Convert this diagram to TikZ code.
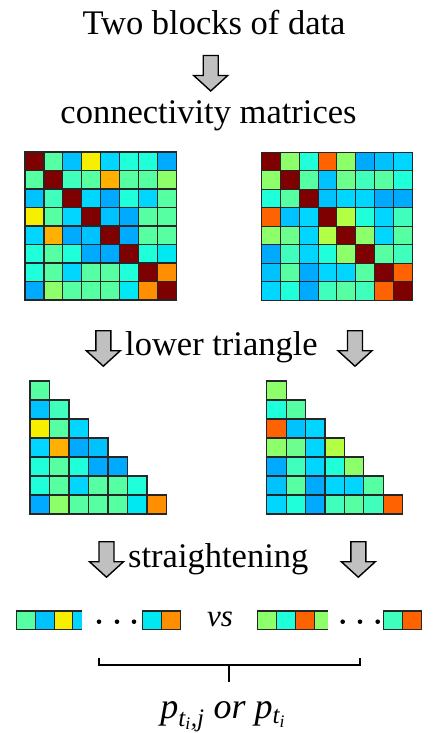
\documentclass[tikz,border=0pt]{standalone}
\usepackage{fontspec}
\setmainfont{Liberation Serif}
\definecolor{DR}{HTML}{7F0000}
\definecolor{MN}{HTML}{55FFA2}
\definecolor{MT}{HTML}{40FFBC}
\definecolor{TQ}{HTML}{1EFFDA}
\definecolor{CY}{HTML}{00D6FF}
\definecolor{CE}{HTML}{00E8F2}
\definecolor{SB}{HTML}{00C2FF}
\definecolor{AZ}{HTML}{00AAFF}
\definecolor{YE}{HTML}{F6F000}
\definecolor{OR}{HTML}{FFB000}
\definecolor{OO}{HTML}{FF8E00}
\definecolor{LG}{HTML}{8CFF6A}
\definecolor{YG}{HTML}{B2FF44}
\definecolor{RO}{HTML}{FF6200}
\definecolor{M2}{HTML}{6CFF8E}
\definecolor{arrowgray}{HTML}{C0C0C0}
\newcommand\DrawMat[5]{%
  \foreach \rw [count=\i] in {#5} {
    \foreach \cc [count=\j] in \rw {
      \draw[cellline, fill=\cc] ({#1+(\j-1)*#3},{#2+(\i-1)*#4}) rectangle ++(#3,#4);
    }
  }
}
\newcommand\DrawTri[5]{%
  \foreach \rw [count=\i] in {#5} {
    \foreach \cc [count=\j] in \rw {
      \ifnum\j<\i
        \draw[cellline, fill=\cc] ({#1+(\j-1)*#3},{#2+(\i-2)*#4}) rectangle ++(#3,#4);
      \fi
    }
  }
}
\begin{document}
\begin{tikzpicture}[x=1pt,y=-1pt,
  cellline/.style={draw=black!85, line width=1.1pt},
  bigtext/.style={inner sep=0pt, font=\fontsize{34.5}{40}\selectfont},
  blockarrow/.pic={\draw[fill=arrowgray, line width=1.4pt, line join=miter]
     (-7.5,0) -- (7.5,0) -- (7.5,20) -- (17,20) -- (0,35.5) -- (-17,20) -- (-7.5,20) -- cycle;}]
\useasboundingbox (0,0) rectangle (435,733);

% texts
\node[bigtext, anchor=base] (title) at (214,35) {Two blocks of data};
\node[bigtext, anchor=base] (conn) at (208.5,123.3) {connectivity matrices};
\node[bigtext, anchor=base west] (lower) at (125,355) {lower triangle};
\node[bigtext, anchor=base west] (straight) at (128,567.7) {straightening};
\node[inner sep=0pt, anchor=base, font=\fontsize{31}{34}\selectfont\itshape] (vs) at (220,626.7) {vs};
\node[inner sep=0pt, anchor=base, font=\fontsize{36}{40}\selectfont\itshape] (plabel) at (223,718)
  {p\textsubscript{t\textsubscript{i},j} or p\textsubscript{t\textsubscript{i}}};

% arrows
\pic at (210.7,55.5) {blockarrow};
\pic at (103.3,330.7) {blockarrow};
\pic at (355,330.7) {blockarrow};
\pic at (106.5,541.7) {blockarrow};
\pic at (358.3,541.7) {blockarrow};

% left matrix
\DrawMat{25}{152}{18.95}{18.5}{
 {DR,MN,SB,YE,CY,TQ,TQ,AZ},
 {MN,DR,MT,MN,OR,MN,MN,LG},
 {SB,MT,DR,CY,AZ,TQ,CY,MN},
 {YE,MN,CY,DR,SB,AZ,MN,MN},
 {CY,OR,AZ,SB,DR,AZ,MN,MN},
 {TQ,MN,TQ,AZ,AZ,DR,TQ,CE},
 {TQ,MN,CY,MN,MN,TQ,DR,OO},
 {AZ,LG,MN,MN,MN,CE,OO,DR}}

% right matrix
\DrawMat{261.7}{152.3}{18.8}{18.5}{
 {DR,LG,TQ,RO,LG,AZ,SB,CY},
 {LG,DR,MN,SB,M2,MT,MN,TQ},
 {TQ,MN,DR,SB,CY,CY,AZ,AZ},
 {RO,SB,CY,DR,YG,TQ,CY,MT},
 {LG,M2,CY,YG,DR,LG,CY,MN},
 {AZ,MT,CY,TQ,LG,DR,MN,MT},
 {SB,MN,AZ,CY,CY,MN,DR,RO},
 {CY,TQ,AZ,MT,MN,MT,RO,DR}}

% left triangle
\DrawTri{30}{381}{19.5}{19}{
 {DR,MN,SB,YE,CY,TQ,TQ,AZ},
 {MN,DR,MT,MN,OR,MN,MN,LG},
 {SB,MT,DR,CY,AZ,TQ,CY,MN},
 {YE,MN,CY,DR,SB,AZ,MN,MN},
 {CY,OR,AZ,SB,DR,AZ,MN,MN},
 {TQ,MN,TQ,AZ,AZ,DR,TQ,CE},
 {TQ,MN,CY,MN,MN,TQ,DR,OO},
 {AZ,LG,MN,MN,MN,CE,OO,DR}}

% right triangle
\DrawTri{266.7}{381}{19.43}{19}{
 {DR,LG,TQ,RO,LG,AZ,SB,CY},
 {LG,DR,MN,SB,M2,MT,MN,TQ},
 {TQ,MN,DR,SB,CY,CY,AZ,AZ},
 {RO,SB,CY,DR,YG,TQ,CY,MT},
 {LG,M2,CY,YG,DR,LG,CY,MN},
 {AZ,MT,CY,TQ,LG,DR,MN,MT},
 {SB,MN,AZ,CY,CY,MN,DR,RO},
 {CY,TQ,AZ,MT,MN,MT,RO,DR}}

% left bar
\foreach \cc [count=\k] in {MN,SB,YE} {
  \draw[cellline, fill=\cc] ({16.7+(\k-1)*18.7},611) rectangle ++(18.7,18.3);
}
\fill[CY] (72.8,611) rectangle (81.7,629.3);
\draw[cellline] (81.7,611) -- (72.8,611) -- (72.8,629.3) -- (81.7,629.3);
\foreach \cc [count=\k] in {CE,OO} {
  \draw[cellline, fill=\cc] ({142.7+(\k-1)*18.7},611) rectangle ++(18.7,18.3);
}
\foreach \xx in {99,117,134} \fill (\xx,621.7) circle (2.3);

% right bar
\foreach \cc [count=\k] in {LG,TQ,RO} {
  \draw[cellline, fill=\cc] ({257.7+(\k-1)*18.9},611) rectangle ++(18.9,18.3);
}
\fill[LG] (314.4,611) rectangle (328.3,629.3);
\draw[cellline] (328.3,611) -- (314.4,611) -- (314.4,629.3) -- (328.3,629.3);
\foreach \cc [count=\k] in {MT,RO} {
  \draw[cellline, fill=\cc] ({383.3+(\k-1)*19.2},611) rectangle ++(19.2,18.3);
}
\foreach \xx in {342.7,360,377.7} \fill (\xx,621.7) circle (2.3);

% brace
\draw[line width=1.7pt] (99.3,657.5) -- (99.3,665) -- (360,665) -- (360,657.5);
\draw[line width=1.7pt] (228.7,665) -- (228.7,682);
\end{tikzpicture}
\end{document}
